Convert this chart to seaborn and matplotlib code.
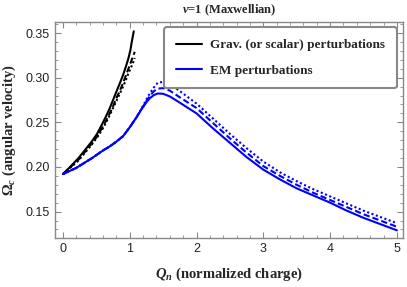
import matplotlib
matplotlib.use("Agg")
import matplotlib.pyplot as plt
from matplotlib.lines import Line2D
from matplotlib.ticker import MultipleLocator
import numpy as np
import pandas as pd
import seaborn as sns

sns.set_theme(style="ticks")
plt.rcParams['font.family'] = ['Liberation Sans', 'DejaVu Sans']
plt.rcParams['mathtext.fontset'] = 'custom'
plt.rcParams['mathtext.rm'] = 'Liberation Serif:bold'
plt.rcParams['mathtext.it'] = 'Liberation Serif:bold:italic'
plt.rcParams['mathtext.bf'] = 'Liberation Serif:bold'

# Grav. (or scalar) perturbations - black
grav_q = [0.0, 0.1, 0.23, 0.33, 0.43, 0.51, 0.58, 0.64, 0.70, 0.75, 0.80, 0.85, 0.90, 0.94, 0.98, 1.01, 1.03, 1.06]
grav_solid = [0.192, 0.1995, 0.2097, 0.219, 0.2284, 0.237, 0.247, 0.256, 0.2657, 0.275, 0.2843, 0.2935, 0.303,
              0.312, 0.3217, 0.331, 0.340, 0.352]
grav_q_b = [0.0, 0.1, 0.23, 0.33, 0.43, 0.51, 0.58, 0.64, 0.70, 0.75, 0.80, 0.85, 0.90, 0.94, 0.98, 1.01, 1.04, 1.075]
grav_dashed = [0.192, 0.199, 0.208, 0.217, 0.226, 0.234, 0.243, 0.251, 0.260, 0.268, 0.277, 0.285, 0.294,
               0.302, 0.310, 0.316, 0.322, 0.329]
grav_dotted = [0.192, 0.1985, 0.207, 0.216, 0.225, 0.233, 0.241, 0.249, 0.258, 0.266, 0.274, 0.282, 0.290,
               0.297, 0.305, 0.310, 0.315, 0.322]

# EM perturbations - blue
em_q = [0.0, 0.2, 0.43, 0.6, 0.7, 0.8, 0.9, 1.0, 1.1, 1.18, 1.25, 1.3, 1.36, 1.42, 1.5, 1.6, 1.75, 2.0,
        2.25, 2.5, 2.75, 3.0, 3.25, 3.5, 3.75, 4.0, 4.25, 4.5, 4.75, 5.0]
em_solid = [0.192, 0.199, 0.2097, 0.2185, 0.223, 0.2284, 0.2345, 0.2445, 0.2555, 0.265, 0.2725, 0.277,
            0.2805, 0.2823, 0.282, 0.279, 0.272, 0.260, 0.243, 0.227, 0.211, 0.197, 0.186, 0.176, 0.168,
            0.160, 0.151, 0.143, 0.136, 0.129]
em_dashed = [0.192, 0.199, 0.2097, 0.2185, 0.223, 0.2284, 0.2345, 0.2445, 0.2555, 0.2655, 0.274, 0.2795,
             0.2848, 0.2878, 0.2883, 0.2855, 0.278, 0.266, 0.249, 0.232, 0.216, 0.201, 0.190, 0.180, 0.171,
             0.163, 0.155, 0.147, 0.140, 0.133]
em_dotted = [0.192, 0.199, 0.2097, 0.2185, 0.223, 0.2284, 0.2345, 0.2445, 0.2555, 0.266, 0.2757, 0.2825,
             0.289, 0.2945, 0.2953, 0.293, 0.285, 0.271, 0.254, 0.237, 0.221, 0.206, 0.194, 0.184, 0.175,
             0.167, 0.159, 0.151, 0.144, 0.137]

fig = plt.figure(figsize=(4.07, 2.87), dpi=100)
ax = fig.add_axes([0.135, 0.171, 0.855, 0.752])

lw = 1.5
dash = (0, (3, 1.5))
dot = (0, (1, 1.2))
sns.lineplot(x=grav_q, y=grav_solid, ax=ax, color='black', lw=lw, linestyle='-')
sns.lineplot(x=grav_q_b, y=grav_dashed, ax=ax, color='black', lw=lw, linestyle=dash)
sns.lineplot(x=grav_q_b, y=grav_dotted, ax=ax, color='black', lw=lw, linestyle=dot)
sns.lineplot(x=em_q, y=em_solid, ax=ax, color='#0000ff', lw=lw, linestyle='-')
sns.lineplot(x=em_q, y=em_dashed, ax=ax, color='#0000ff', lw=lw, linestyle=dash)
sns.lineplot(x=em_q, y=em_dotted, ax=ax, color='#0000ff', lw=lw, linestyle=dot)

ax.set_xlim(-0.12, 5.09)
ax.set_ylim(0.1205, 0.3623)
ax.xaxis.set_minor_locator(MultipleLocator(0.2))
ax.yaxis.set_minor_locator(MultipleLocator(0.01))
ax.set_xticks([0, 1, 2, 3, 4, 5])
ax.set_xticklabels(['0', '1', '2', '3', '4', '5'])
ax.set_yticks([0.15, 0.20, 0.25, 0.30, 0.35])
ax.set_yticklabels(['0.15', '0.20', '0.25', '0.30', '0.35'])

for s in ax.spines.values():
    s.set_color('#888888')
    s.set_linewidth(1.0)
ax.tick_params(which='both', direction='in', top=True, right=True, color='#888888',
               labelsize=9, labelcolor='#222222')
ax.tick_params(which='major', length=4, width=0.8, pad=4)
ax.tick_params(which='minor', length=2, width=0.6)

ax.set_xlabel(r'$Q_n$ (normalized charge)', fontfamily='Liberation Serif', fontweight='bold',
              fontsize=10.5, labelpad=7)
ax.set_ylabel(r'$\Omega_c$ (angular velocity)', fontfamily='Liberation Serif', fontweight='bold',
              fontsize=10.5, labelpad=5)
ax.set_title(r'$\nu$=1 (Maxwellian)', fontfamily='Liberation Serif', fontweight='bold',
             fontsize=9, pad=6)

handles = [Line2D([], [], color='black', lw=1.5), Line2D([], [], color='#0000ff', lw=1.5)]
leg = ax.legend(handles, ['Grav. (or scalar) perturbations', 'EM perturbations'],
                loc='upper right', bbox_to_anchor=(0.983, 0.977), borderaxespad=0,
                frameon=True, fancybox=True,
                prop={'family': 'Liberation Serif', 'weight': 'bold', 'size': 9.5},
                handlelength=2.0, labelspacing=1.0, borderpad=0.9, handletextpad=0.6)
leg.get_frame().set_edgecolor('#888888')
leg.get_frame().set_linewidth(1.5)
leg.get_frame().set_alpha(1)

fig.savefig('out.png', dpi=100)
